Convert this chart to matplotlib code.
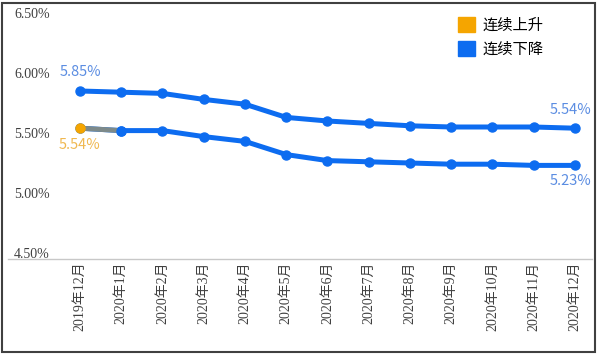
import numpy as np
import matplotlib.pyplot as plt
from matplotlib.patches import Patch, Rectangle

months = ['2019年12月', '2020年1月', '2020年2月', '2020年3月', '2020年4月', '2020年5月',
          '2020年6月', '2020年7月', '2020年8月', '2020年9月', '2020年10月', '2020年11月', '2020年12月']
upper = [5.85, 5.84, 5.83, 5.78, 5.74, 5.63, 5.60, 5.58, 5.56, 5.55, 5.55, 5.55, 5.54]
lower = [5.54, 5.52, 5.52, 5.47, 5.43, 5.32, 5.27, 5.26, 5.25, 5.24, 5.24, 5.23, 5.23]
yticks = [4.5, 5.0, 5.5, 6.0, 6.5]
legend_names = ['连续上升', '连续下降']

blue = '#0d6cf0'
orange = '#f5a500'
serif = ['Liberation Serif', 'Noto Sans CJK SC']
sans = ['Noto Sans CJK SC', 'DejaVu Sans']

fig = plt.figure(figsize=(6, 3.54), dpi=100)
ax = fig.add_axes([8 / 600, 1 - 253 / 354, 584 / 600, 240 / 354])

# spine offset first, it resets the tick settings
for s in ['top', 'left', 'right']:
    ax.spines[s].set_visible(False)
ax.spines['bottom'].set_position(('outward', 4.3))
ax.spines['bottom'].set_color('#c8c8c8')
ax.spines['bottom'].set_linewidth(1)

x = np.arange(len(months))
ax.plot(x, upper, color=blue, lw=3.6, marker='o', ms=6.5, solid_capstyle='round', zorder=3)
ax.plot(x, lower, color=blue, lw=3.6, marker='o', ms=6.5, solid_capstyle='round', zorder=3)
# first point of the lower line is orange, segment blends into blue
ax.plot(x[:2], lower[:2], color='#7d8a8a', lw=3.6, zorder=4)
ax.plot(x[1], lower[1], 'o', color=blue, ms=6.5, zorder=5)
ax.plot(x[0], lower[0], 'o', color=orange, ms=6.5, zorder=5)

# data labels at the ends
ax.annotate(f'{upper[0]:.2f}%', (x[0], upper[0]), xytext=(0, 9), textcoords='offset points',
            ha='center', va='bottom', color='#5b8de2', fontsize=10.5, family=sans)
ax.annotate(f'{lower[0]:.2f}%', (x[0], lower[0]), xytext=(0, -7), textcoords='offset points',
            ha='center', va='top', color='#f0b850', fontsize=10.5, family=sans)
ax.annotate(f'{upper[-1]:.2f}%', (x[-1], upper[-1]), xytext=(-3, 8), textcoords='offset points',
            ha='center', va='bottom', color='#5b8de2', fontsize=10.5, family=sans)
ax.annotate(f'{lower[-1]:.2f}%', (x[-1], lower[-1]), xytext=(-3, -6), textcoords='offset points',
            ha='center', va='top', color='#5b8de2', fontsize=10.5, family=sans)

ax.set_xlim(-72 / 41.25, 12 + 17 / 41.25)
ax.set_ylim(4.5, 6.5)
ax.set_xticks(x)
ax.set_xticklabels(months, rotation=90, family=serif, fontsize=10, color='#404040')
ax.set_yticks(yticks)
ax.set_yticklabels([f'{v:.2f}%' for v in yticks], family=serif, fontsize=10, color='#404040')
ax.tick_params(axis='x', length=0, pad=2)
ax.tick_params(axis='y', length=0, pad=-30)

handles = [Patch(color=orange), Patch(color=blue)]
fig.legend(handles, legend_names, loc='upper left', bbox_to_anchor=(444 / 600, 1 - 3 / 354),
           frameon=False, handlelength=1.1, handleheight=1.1, handletextpad=0.5,
           labelspacing=0.45, prop={'family': sans, 'size': 11})

fig.patches.append(Rectangle((2 / 600, 2 / 354), 593 / 600, 349 / 354, transform=fig.transFigure,
                             fill=False, edgecolor='#404040', lw=1.5))

fig.savefig('out.png', dpi=100)
